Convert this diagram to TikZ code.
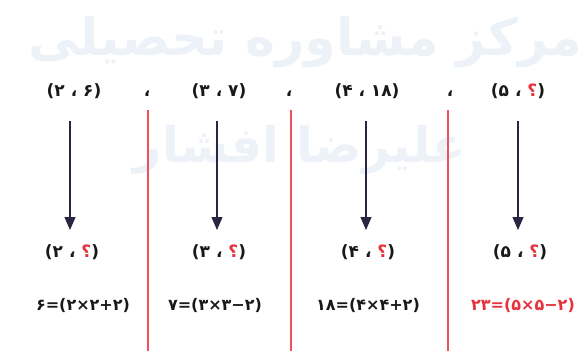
\documentclass[tikz,border=0pt]{standalone}
\usepackage{fontspec}
\usetikzlibrary{arrows.meta}
\TeXXeTstate=1
\newfontfamily\fa[Script=Arabic]{DejaVu Sans}
\newfontfamily\faRed[Script=Arabic,Color=E8303A]{DejaVu Sans}
\newcommand{\hb}{\hbox{}}
\newcommand{\qm}{{\faRed\bfseries ؟}}
\definecolor{wm}{HTML}{EDF2F8}
\definecolor{sepred}{HTML}{F0505A}
\definecolor{arrowc}{HTML}{2A2540}
\definecolor{qred}{HTML}{E8303A}
\tikzset{
  x=1pt,y=-1pt,
  tup/.style={font=\fa\bfseries\fontsize{17}{20}\selectfont, inner sep=0pt, text=black!90},
  eqn/.style={font=\fa\bfseries\fontsize{16}{19}\selectfont, inner sep=0pt, text=black!90},
  sep/.style={draw=sepred, line width=1.2pt},
  arr/.style={draw=arrowc, line width=1.1pt, -{Triangle[length=13pt,width=11pt]}},
  wmark/.style={font=\fa\bfseries\fontsize{51}{55}\selectfont, text=wm, inner sep=0pt}
}
\begin{document}
\begin{tikzpicture}
\useasboundingbox (0,0) rectangle (587,351);
% watermark
\node[wmark] (wm1) at (305,42) {\beginR مرکز مشاوره تحصیلی\endR};
\node[wmark, font=\fa\bfseries\fontsize{49}{53}\selectfont] (wm2) at (300,150) {\beginR علیرضا افشار\endR};
% separators
\draw[sep] (148,110) -- (148,351);
\draw[sep] (291,110) -- (291,351);
\draw[sep] (448,110) -- (448,351);
% top commas
\node[tup] (c1) at (147,94) {\beginR ،\endR};
\node[tup] (c2) at (289,94) {\beginR ،\endR};
\node[tup] (c3) at (450,94) {\beginR ،\endR};
% top tuples
\node[tup] (t1) at (74,91) {\beginR(۶ ، ۲)\endR};
\node[tup] (t2) at (219,91) {\beginR(۷ ، ۳)\endR};
\node[tup] (t3) at (367,91) {\beginR(۱۸ ، ۴)\endR};
\node[tup] (t4) at (518,91) {\beginR(\hb\qm\hb\ ، ۵)\endR};
% bottom tuples
\node[tup] (b1) at (72,252) {\beginR(\hb\qm\hb\ ، ۲)\endR};
\node[tup] (b2) at (219,252) {\beginR(\hb\qm\hb\ ، ۳)\endR};
\node[tup] (b3) at (368,252) {\beginR(\hb\qm\hb\ ، ۴)\endR};
\node[tup] (b4) at (520,252) {\beginR(\hb\qm\hb\ ، ۵)\endR};
% arrows
\coordinate (a1) at (70,121); \coordinate (a2) at (217,121);
\coordinate (a3) at (366,121); \coordinate (a4) at (518,121);
\coordinate (h1) at (70,230); \coordinate (h2) at (217,230);
\coordinate (h3) at (366,230); \coordinate (h4) at (518,230);
\draw[arr] (a1) -- (h1);
\draw[arr] (a2) -- (h2);
\draw[arr] (a3) -- (h3);
\draw[arr] (a4) -- (h4);
% equations
\node[eqn] (e1) at (83,305) {\beginR(\hb۲\hb+\hb۲\hb×\hb۲\hb)\hb=\hb۶\endR};
\node[eqn] (e2) at (215,305) {\beginR(\hb۲\hb−\hb۳\hb×\hb۳\hb)\hb=\hb۷\endR};
\node[eqn] (e3) at (368,305) {\beginR(\hb۲\hb+\hb۴\hb×\hb۴\hb)\hb=\hb۱۸\endR};
\node[eqn, text=qred] (e4) at (523,305) {\beginR(\hb۲\hb−\hb۵\hb×\hb۵\hb)\hb=\hb۲۳\endR};
\end{tikzpicture}
\end{document}
